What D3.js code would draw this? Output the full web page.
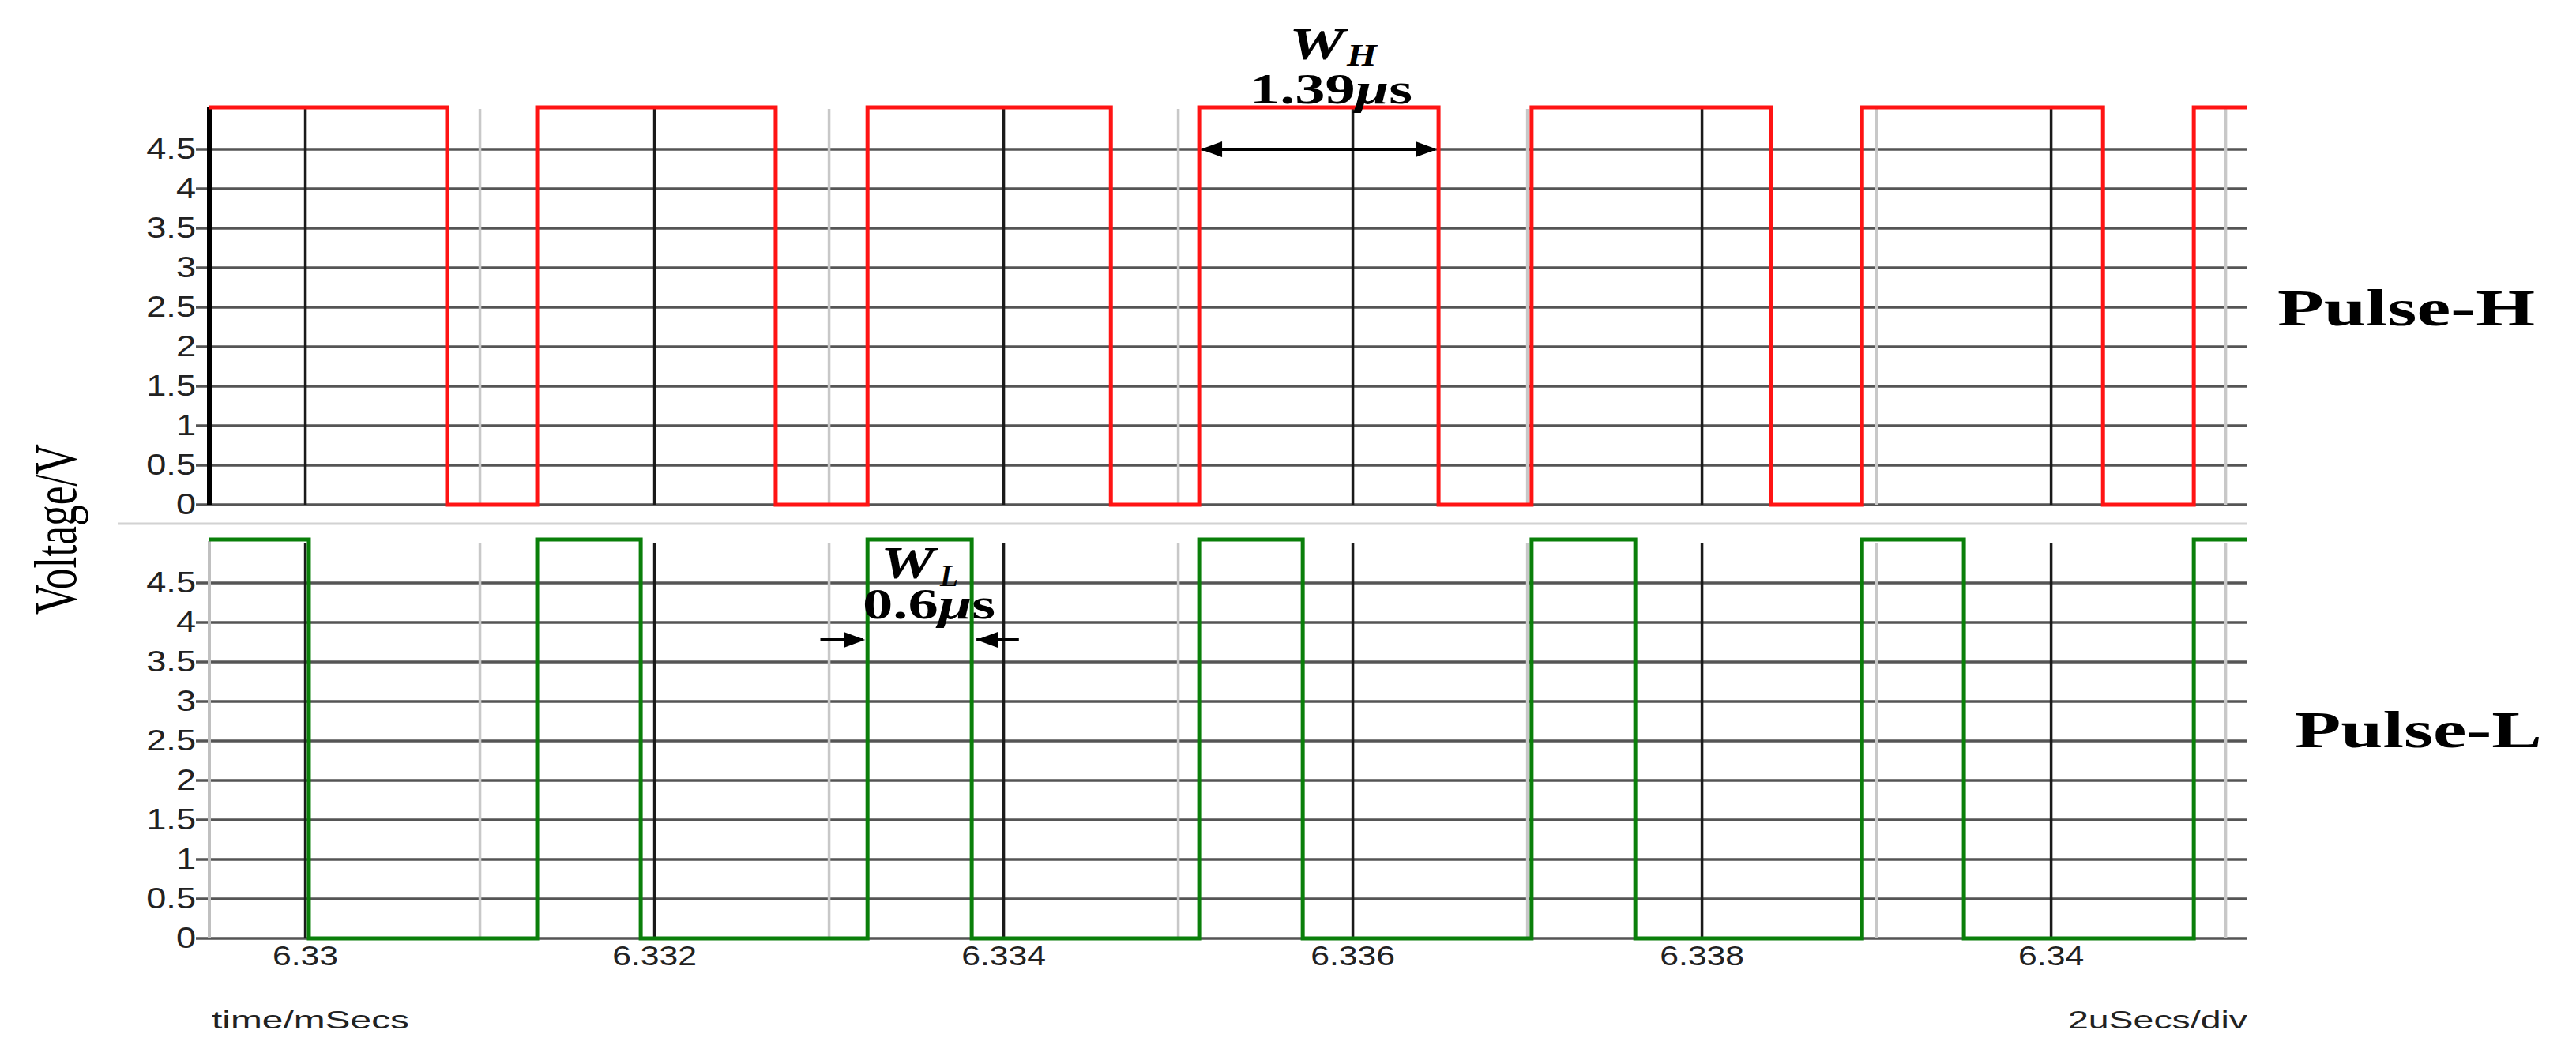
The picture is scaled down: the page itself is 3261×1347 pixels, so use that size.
<!DOCTYPE html>
<html>
<head>
<meta charset="utf-8">
<script src="https://cdn.jsdelivr.net/npm/d3@7"></script>
<style>
  body { margin: 0; background: #fff; }
  svg { display: block; }
</style>
</head>
<body>
<script>
// time axis (ms) and voltage ticks
var timeStart = 6.32945, timeEnd = 6.341124;
var majorTimes = [6.33, 6.332, 6.334, 6.336, 6.338, 6.34];
var majorLabels = ["6.33", "6.332", "6.334", "6.336", "6.338", "6.34"];
var minorTimes = [6.331, 6.333, 6.335, 6.337, 6.339, 6.341];
var voltTicks = [0, 0.5, 1, 1.5, 2, 2.5, 3, 3.5, 4, 4.5];
var voltLabels = ["0", "0.5", "1", "1.5", "2", "2.5", "3", "3.5", "4", "4.5"];

// Pulse-H breakpoints (ms) and level after each breakpoint (V)
var hTimes = [6.32945, 6.330812, 6.331328, 6.332694, 6.333220, 6.334614, 6.335120,
              6.336491, 6.337024, 6.338397, 6.338917, 6.340297, 6.340817, 6.341124];
var hVolts = [5.03, 0, 5.03, 0, 5.03, 0, 5.03, 0, 5.03, 0, 5.03, 0, 5.03, 5.03];

// Pulse-L breakpoints (ms) and levels (V)
var lTimes = [6.32945, 6.330020, 6.331328, 6.331921, 6.333220, 6.333817, 6.335120,
              6.335713, 6.337024, 6.337618, 6.338917, 6.339500, 6.340817, 6.341124];
var lVolts = [5.05, 0, 5.05, 0, 5.05, 0, 5.05, 0, 5.05, 0, 5.05, 0, 5.05, 5.05];

var width = 3261, height = 1347;
var left = 265, right = 2845, stub = 17;

var svg = d3.select("body").append("svg")
  .attr("width", width)
  .attr("height", height);

var x = d3.scaleLinear().domain([timeStart, timeEnd]).range([left, right]);
var yTop = d3.scaleLinear().domain([0, 5]).range([639, 139]);
var yBot = d3.scaleLinear().domain([0, 5]).range([1188, 688]);

function drawPanel(y, times, volts, color, axisColor) {
  var g = svg.append("g");

  // horizontal grid with tick stubs
  g.selectAll(".hgrid").data(voltTicks).enter().append("line")
    .attr("x1", left - stub).attr("x2", right)
    .attr("y1", function(d) { return y(d); })
    .attr("y2", function(d) { return y(d); })
    .attr("stroke", "#555").attr("stroke-width", 3.5);

  // light minor verticals
  g.selectAll(".minor").data(minorTimes).enter().append("line")
    .attr("x1", function(d) { return x(d); })
    .attr("x2", function(d) { return x(d); })
    .attr("y1", y(5.01)).attr("y2", y(0))
    .attr("stroke", "#c8c8c8").attr("stroke-width", 3.5);

  // dark major verticals
  g.selectAll(".major").data(majorTimes).enter().append("line")
    .attr("x1", function(d) { return x(d); })
    .attr("x2", function(d) { return x(d); })
    .attr("y1", y(5.01)).attr("y2", y(0))
    .attr("stroke", "#1a1a1a").attr("stroke-width", 3.5);

  // left axis line
  g.append("line")
    .attr("x1", left).attr("x2", left)
    .attr("y1", y(5.03)).attr("y2", y(0))
    .attr("stroke", axisColor).attr("stroke-width", axisColor == "#000" ? 6 : 4);

  // voltage labels
  var ax = g.append("g")
    .attr("transform", "translate(" + left + ",0)")
    .call(d3.axisLeft(y).tickValues(voltTicks)
      .tickFormat(function(d, i) { return voltLabels[i]; })
      .tickSize(0).tickPadding(0));
  ax.select(".domain").remove();
  ax.selectAll("text")
    .attr("x", -stub / 1.22)
    .attr("transform", "scale(1.22,1)")
    .style("font-family", "'Liberation Sans', Arial, sans-serif")
    .style("font-size", "37px")
    .attr("fill", "#222");

  // trace
  var pts = times.map(function(t, i) { return [t, volts[i]]; });
  var line = d3.line()
    .x(function(d) { return x(d[0]); })
    .y(function(d) { return y(d[1]); })
    .curve(d3.curveStepAfter);
  g.append("path")
    .datum(pts)
    .attr("d", line)
    .attr("fill", "none")
    .attr("stroke", color)
    .attr("stroke-width", 5)
    .attr("stroke-linejoin", "miter");
  return g;
}

drawPanel(yTop, hTimes, hVolts, "#ff1414", "#000");
drawPanel(yBot, lTimes, lVolts, "#0a7f0a", "#c0c0c0");

// divider between panels
svg.append("line")
  .attr("x1", 150).attr("x2", right)
  .attr("y1", 663).attr("y2", 663)
  .attr("stroke", "#d2d2d2").attr("stroke-width", 3);

// time labels
var xa = svg.append("g")
  .attr("transform", "translate(0," + yBot(0) + ")")
  .call(d3.axisBottom(x).tickValues(majorTimes)
    .tickFormat(function(d, i) { return majorLabels[i]; })
    .tickSize(0).tickPadding(9));
xa.select(".domain").remove();
xa.selectAll("text")
  .attr("transform", "scale(1.22,1)")
  .attr("x", 0)
  .style("font-family", "'Liberation Sans', Arial, sans-serif")
  .style("font-size", "35px")
  .attr("fill", "#222");
// scale about each tick centre: move the tick groups accordingly
xa.selectAll(".tick").attr("transform", function(d) { return "translate(" + x(d) + ",0)"; });

function label(txt, px, py, size, len, opts) {
  opts = opts || {};
  var t = svg.append("text")
    .attr("x", px).attr("y", py)
    .attr("font-family", opts.family || "'Liberation Serif', 'Times New Roman', serif")
    .attr("font-size", size)
    .attr("font-weight", opts.weight || "normal")
    .attr("font-style", opts.style || "normal")
    .attr("fill", opts.fill || "#000")
    .attr("text-anchor", opts.anchor || "start")
    .attr("textLength", len)
    .attr("lengthAdjust", "spacingAndGlyphs")
    .text(txt);
  return t;
}

// axis titles
var sans = { family: "'Liberation Sans', Arial, sans-serif", fill: "#222" };
label("time/mSecs", 268, 1302, 31, 250, sans);
label("2uSecs/div", right, 1302, 31, 227, { family: sans.family, fill: "#222", anchor: "end" });

svg.append("text")
  .attr("transform", "translate(96,670) scale(1.45,1) rotate(-90)")
  .attr("text-anchor", "middle")
  .attr("font-family", "'Liberation Serif', 'Times New Roman', serif")
  .attr("font-size", 52)
  .attr("textLength", 216)
  .attr("lengthAdjust", "spacingAndGlyphs")
  .text("Voltage/V");

// trace names
label("Pulse-H", 2883, 412, 66, 326, { weight: "bold" });
label("Pulse-L", 2905, 946, 66, 313, { weight: "bold" });

// width annotations
var bi = { weight: "bold", style: "italic" };
label("W", 1632, yTop(5.64), 56, 70, bi);
label("H", 1705, yTop(5.56), 40, 38, bi);
var t1 = label("", 1582, yTop(5.08), 54, 206, { weight: "bold" });
t1.append("tspan").text("1.39");
t1.append("tspan").attr("font-style", "italic").text("μ");
t1.append("tspan").text("s");

label("W", 1115, yBot(4.56), 56, 68, bi);
label("L", 1190, yBot(4.46), 40, 23, bi);
var t2 = label("", 1092, yBot(4.05), 54, 168, { weight: "bold" });
t2.append("tspan").text("0.6");
t2.append("tspan").attr("font-style", "italic").text("μ");
t2.append("tspan").text("s");

function arrowHead(tipX, tipY, dir) {
  var len = 27, half = 10;
  svg.append("path")
    .attr("d", "M" + tipX + "," + tipY +
               "L" + (tipX - dir * len) + "," + (tipY - half) +
               "L" + (tipX - dir * len) + "," + (tipY + half) + "Z")
    .attr("fill", "#000");
}

// W_H double arrow between rising and falling edge of the 4th high pulse
var ay = yTop(4.5);
svg.append("line")
  .attr("x1", x(hTimes[6]) + 4).attr("x2", x(hTimes[7]) - 4)
  .attr("y1", ay).attr("y2", ay)
  .attr("stroke", "#000").attr("stroke-width", 4);
arrowHead(x(hTimes[6]) + 2, ay, -1);
arrowHead(x(hTimes[7]) - 2, ay, 1);

// W_L outside arrows pointing at the 3rd green pulse edges
var by = yBot(3.78), tail = 0.00027;
svg.append("line")
  .attr("x1", x(lTimes[4] - tail)).attr("x2", x(lTimes[4]) - 6)
  .attr("y1", by).attr("y2", by)
  .attr("stroke", "#000").attr("stroke-width", 4);
arrowHead(x(lTimes[4]) - 3, by, 1);
svg.append("line")
  .attr("x1", x(lTimes[5] + tail)).attr("x2", x(lTimes[5]) + 6)
  .attr("y1", by).attr("y2", by)
  .attr("stroke", "#000").attr("stroke-width", 4);
arrowHead(x(lTimes[5]) + 6, by, -1);
</script>
</body>
</html>
